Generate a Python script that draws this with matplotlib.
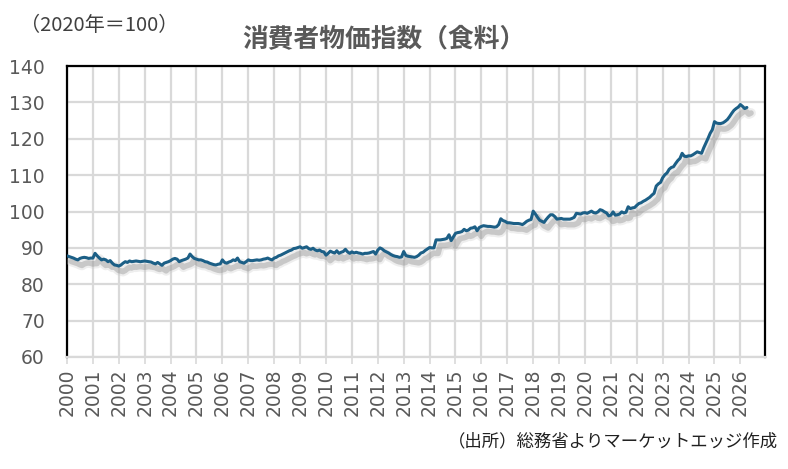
import matplotlib
matplotlib.use("Agg")
import matplotlib.pyplot as plt
import matplotlib.patheffects as pe
import numpy as np

# Monthly food CPI (2020=100)
y2000 = [87.8, 87.6, 87.4, 87.2, 86.9, 86.7, 87.1, 87.3, 87.4, 87.3, 87.1, 87.2]
y2001 = [87.2, 88.5, 87.8, 87.2, 86.7, 86.9, 86.7, 86.2, 86.5, 85.8, 85.3, 85.2]
y2002 = [85.0, 85.3, 85.8, 86.2, 86.0, 86.4, 86.2, 86.3, 86.4, 86.3, 86.2, 86.3]
y2003 = [86.4, 86.3, 86.2, 86.1, 85.8, 85.6, 86.0, 85.6, 85.2, 85.8, 86.0, 86.2]
y2004 = [86.5, 86.9, 87.1, 86.9, 86.2, 86.5, 86.7, 86.9, 87.2, 88.3, 87.6, 87.1]
y2005 = [86.9, 86.7, 86.7, 86.5, 86.2, 86.1, 85.8, 85.6, 85.4, 85.3, 85.5, 85.6]
y2006 = [86.7, 86.0, 85.8, 86.1, 86.3, 86.7, 86.5, 87.2, 86.2, 86.0, 85.8, 86.2]
y2007 = [86.7, 86.5, 86.5, 86.6, 86.7, 86.6, 86.7, 86.9, 87.0, 87.2, 86.9, 86.7]
y2008 = [87.2, 87.4, 87.8, 88.0, 88.3, 88.6, 88.9, 89.2, 89.4, 89.8, 89.9, 90.1]
y2009 = [90.3, 89.9, 90.1, 90.3, 89.8, 89.6, 89.9, 89.4, 89.2, 89.4, 89.0, 88.9]
y2010 = [88.0, 88.5, 89.1, 88.8, 88.6, 89.2, 88.5, 88.8, 89.0, 89.6, 88.9, 88.5]
y2011 = [88.9, 88.6, 88.8, 88.6, 88.5, 88.3, 88.5, 88.5, 88.6, 88.8, 89.0, 88.3]
y2012 = [89.4, 90.0, 89.7, 89.2, 88.9, 88.6, 88.2, 87.9, 87.7, 87.6, 87.4, 87.5]
y2013 = [89.0, 87.9, 87.7, 87.6, 87.5, 87.4, 87.6, 88.0, 88.6, 88.8, 89.3, 89.7]
y2014 = [90.1, 90.0, 90.0, 92.2, 92.2, 92.2, 92.3, 92.4, 92.6, 93.6, 92.0, 93.0]
y2015 = [94.0, 94.2, 94.3, 94.5, 95.1, 94.7, 94.9, 95.4, 95.5, 95.8, 94.7, 95.6]
y2016 = [95.9, 96.1, 96.0, 95.9, 95.9, 95.8, 95.7, 95.8, 96.4, 98.0, 97.5, 97.3]
y2017 = [96.9, 96.9, 96.8, 96.7, 96.7, 96.7, 96.6, 96.4, 96.8, 97.3, 97.6, 97.8]
y2018 = [100.1, 99.3, 98.4, 97.6, 97.3, 97.0, 97.8, 98.5, 99.1, 99.1, 98.6, 97.9]
y2019 = [98.0, 98.1, 97.9, 97.9, 97.9, 97.9, 98.1, 98.4, 99.5, 99.4, 99.3, 99.6]
y2020 = [99.7, 99.5, 99.8, 100.1, 99.7, 99.6, 99.9, 100.5, 100.3, 99.9, 99.6, 98.8]
y2021 = [99.0, 99.9, 99.0, 99.1, 99.3, 99.9, 99.6, 99.8, 101.3, 100.8, 101.0, 101.1]
y2022 = [101.7, 102.2, 102.4, 102.8, 103.1, 103.5, 103.9, 104.5, 105.0, 107.0, 107.6, 108.0]
y2023 = [109.3, 110.1, 110.6, 111.6, 112.1, 112.3, 113.2, 114.0, 114.6, 116.0, 115.2, 115.1]
y2024 = [115.3, 115.3, 115.6, 116.0, 116.4, 116.2, 116.0, 117.5, 118.8, 120.1, 121.5, 122.5]
y2025 = [124.7, 124.3, 124.2, 124.2, 124.4, 124.8, 125.3, 126.1, 127.0, 127.8, 128.3, 128.7]
y2026 = [129.4, 128.9, 128.3, 128.6]

values = (y2000 + y2001 + y2002 + y2003 + y2004 + y2005 + y2006 + y2007 + y2008 +
          y2009 + y2010 + y2011 + y2012 + y2013 + y2014 + y2015 + y2016 + y2017 +
          y2018 + y2019 + y2020 + y2021 + y2022 + y2023 + y2024 + y2025 + y2026)
start_year = 2000
year_ticks = list(range(2000, 2027))
y_ticks = [60, 70, 80, 90, 100, 110, 120, 130, 140]

title = "消費者物価指数（食料）"
unit_label = "（2020年＝100）"
source_label = "（出所）総務省よりマーケットエッジ作成"

plt.rcParams['font.family'] = ['Noto Sans CJK JP', 'DejaVu Sans']

fig = plt.figure(figsize=(7.88, 4.69), dpi=100)
ax = fig.add_axes([67/788, 1-357/469, (765-67)/788, (357-66)/469])

x = start_year + np.arange(len(values)) / 12.0
line_color = '#1c5f86'
shadow = [pe.SimpleLineShadow(offset=(3, -4), shadow_color='#c8c8c8', alpha=0.3, linewidth=7),
          pe.SimpleLineShadow(offset=(3, -4), shadow_color='#909090', alpha=0.4, linewidth=4),
          pe.Normal()]
ax.plot(x, values, color=line_color, linewidth=2.2, solid_capstyle='round',
        solid_joinstyle='round', path_effects=shadow, zorder=3)

ax.set_xlim(2000, 2026.95)
ax.set_ylim(60, 140)
ax.set_xticks(year_ticks)
ax.set_xticklabels([str(y) for y in year_ticks], rotation=90, family='DejaVu Sans',
                   fontsize=13.5, color='#595959')
ax.set_yticks(y_ticks)
ax.set_yticklabels([str(v) for v in y_ticks], family='DejaVu Sans', fontsize=13.5, color='#595959')
ax.grid(True, color='#d9d9d9', linewidth=1.6, zorder=0)
ax.set_axisbelow(True)
ax.tick_params(axis='x', length=5, width=1.2, color='#d9d9d9', pad=3)
ax.tick_params(axis='y', length=0, pad=16)

for side in ['left', 'top', 'right']:
    ax.spines[side].set_color('black')
    ax.spines[side].set_linewidth(1.6)
ax.spines['bottom'].set_color('#d9d9d9')
ax.spines['bottom'].set_linewidth(1.6)

fig.text(0.487, 0.916, title, ha='center', va='center', fontsize=18.5,
         fontweight='bold', color='#595959')
fig.text(0.025, 0.945, unit_label, ha='left', va='center', fontsize=14.5, color='#404040')
fig.text(0.987, 0.058, source_label, ha='right', va='center', fontsize=12.5, color='#202020')

fig.savefig('out.png', dpi=100)
